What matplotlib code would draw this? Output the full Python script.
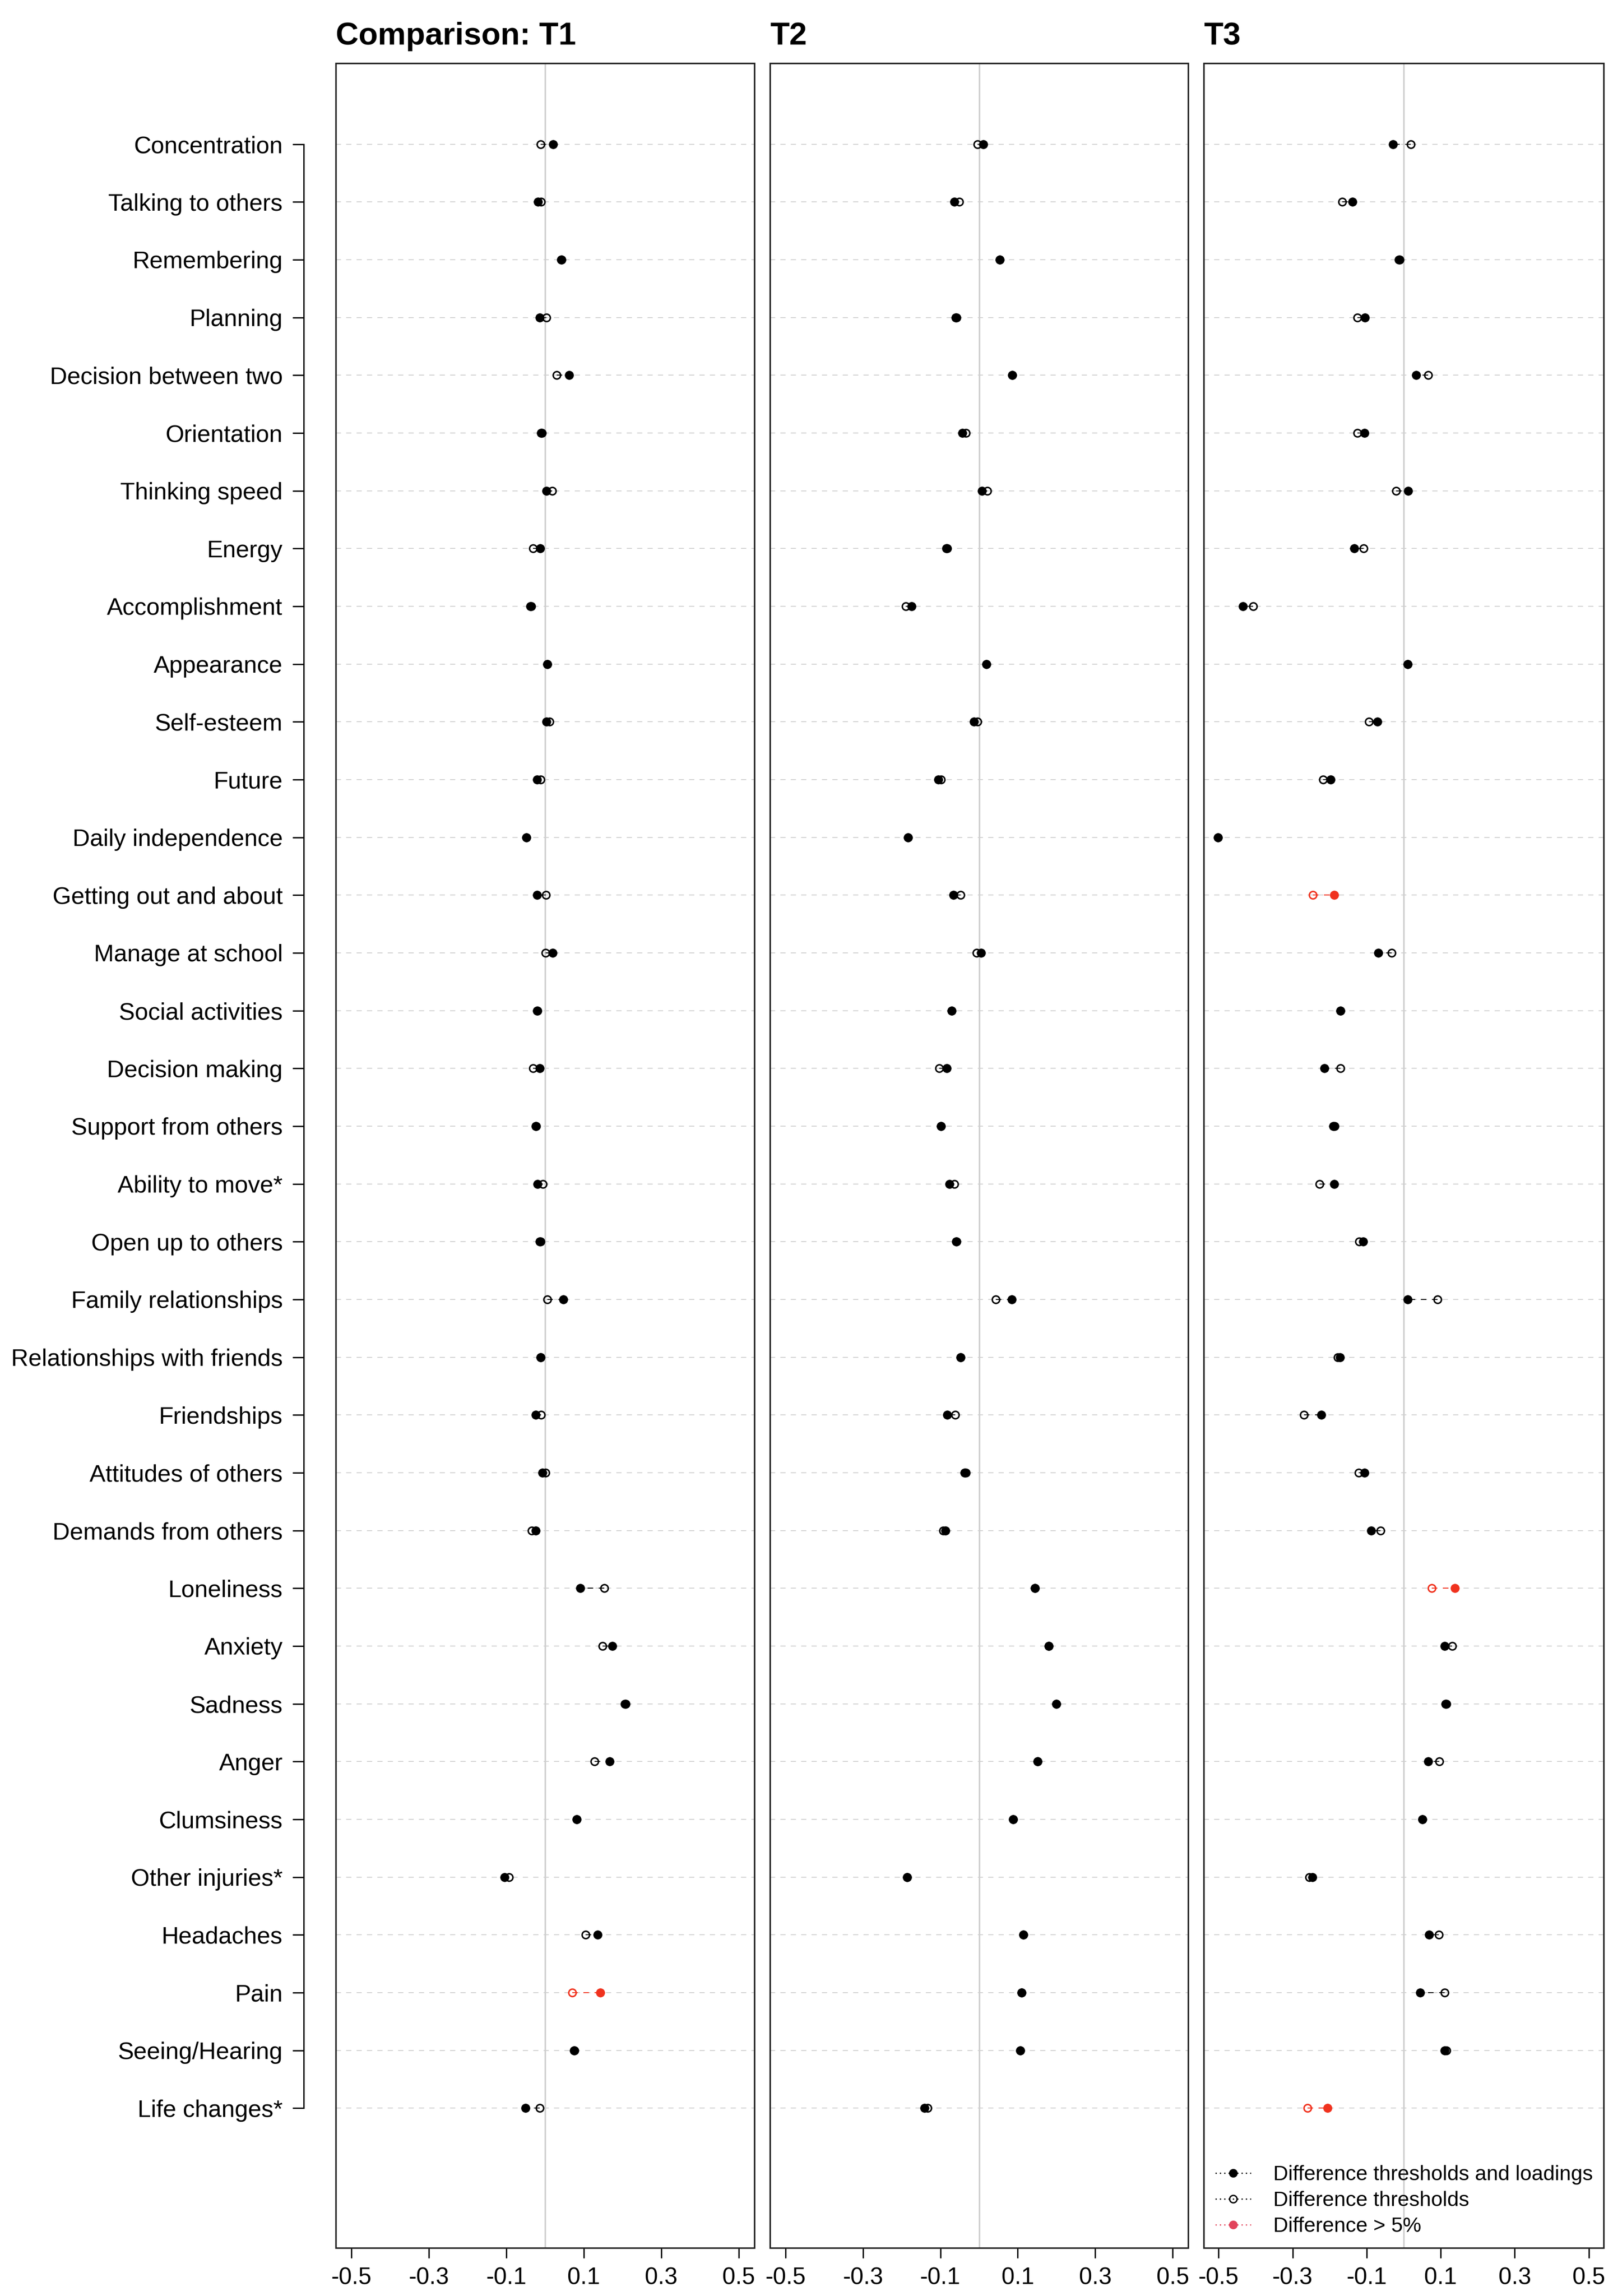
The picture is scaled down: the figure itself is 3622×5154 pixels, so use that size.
import matplotlib
matplotlib.use("Agg")
import matplotlib.pyplot as plt
from matplotlib.lines import Line2D
from matplotlib.patches import Rectangle

plt.rcParams['font.family'] = ['Liberation Sans', 'DejaVu Sans']
plt.rcParams['axes.unicode_minus'] = False

# ---------------- data ----------------
items = ["Concentration", "Talking to others", "Remembering", "Planning",
         "Decision between two", "Orientation", "Thinking speed", "Energy",
         "Accomplishment", "Appearance", "Self-esteem", "Future",
         "Daily independence", "Getting out and about", "Manage at school",
         "Social activities", "Decision making", "Support from others",
         "Ability to move*", "Open up to others", "Family relationships",
         "Relationships with friends", "Friendships", "Attitudes of others",
         "Demands from others", "Loneliness", "Anxiety", "Sadness", "Anger",
         "Clumsiness", "Other injuries*", "Headaches", "Pain",
         "Seeing/Hearing", "Life changes*"]

panel_titles = ["Comparison: T1", "T2", "T3"]

# difference thresholds and loadings (filled points)
t1_loadings = [0.021, -0.018, 0.043, -0.014, 0.062, -0.010, 0.003, -0.013, -0.038, 0.006,
               0.003, -0.021, -0.048, -0.021, 0.019, -0.021, -0.014, -0.024, -0.020, -0.014,
               0.047, -0.011, -0.024, -0.007, -0.024, 0.091, 0.174, 0.208, 0.167, 0.082,
               -0.104, 0.136, 0.143, 0.075, -0.051]
t2_loadings = [0.011, -0.064, 0.053, -0.060, 0.086, -0.043, 0.007, -0.085, -0.174, 0.019,
               -0.013, -0.105, -0.184, -0.066, 0.005, -0.071, -0.083, -0.098, -0.077, -0.059,
               0.084, -0.048, -0.082, -0.037, -0.087, 0.144, 0.180, 0.199, 0.151, 0.088,
               -0.186, 0.115, 0.110, 0.106, -0.141]
t3_loadings = [-0.029, -0.138, -0.011, -0.105, 0.034, -0.106, 0.012, -0.134, -0.434, 0.011,
               -0.071, -0.197, -0.502, -0.188, -0.069, -0.171, -0.214, -0.190, -0.188, -0.110,
               0.011, -0.172, -0.222, -0.106, -0.088, 0.138, 0.111, 0.113, 0.066, 0.050,
               -0.246, 0.068, 0.045, 0.111, -0.206]

# difference thresholds (open points)
t1_thresholds = [-0.012, -0.010, 0.041, 0.003, 0.030, -0.008, 0.018, -0.031, -0.036, 0.006,
                 0.012, -0.011, -0.048, 0.002, 0.001, -0.020, -0.031, -0.023, -0.006, -0.012,
                 0.006, -0.011, -0.010, 0.001, -0.034, 0.153, 0.148, 0.206, 0.127, 0.082,
                 -0.093, 0.105, 0.070, 0.076, -0.014]
t2_thresholds = [-0.004, -0.051, 0.053, -0.058, 0.086, -0.034, 0.021, -0.082, -0.189, 0.019,
                 -0.004, -0.098, -0.184, -0.048, -0.006, -0.071, -0.103, -0.098, -0.064, -0.058,
                 0.043, -0.048, -0.062, -0.034, -0.093, 0.144, 0.180, 0.199, 0.151, 0.088,
                 -0.186, 0.115, 0.110, 0.106, -0.133]
t3_thresholds = [0.019, -0.166, -0.013, -0.125, 0.066, -0.125, -0.020, -0.108, -0.406, 0.011,
                 -0.094, -0.218, -0.502, -0.245, -0.033, -0.171, -0.171, -0.186, -0.227, -0.120,
                 0.092, -0.178, -0.270, -0.122, -0.063, 0.076, 0.131, 0.116, 0.096, 0.050,
                 -0.255, 0.095, 0.111, 0.116, -0.260]

# items with difference > 5%
t1_flagged = ["Pain"]
t2_flagged = []
t3_flagged = ["Getting out and about", "Loneliness", "Life changes*"]

x_ticks = [-0.5, -0.3, -0.1, 0.1, 0.3, 0.5]
x_ticklabels = ["-0.5", "-0.3", "-0.1", "0.1", "0.3", "0.5"]

legend_labels = ["Difference thresholds and loadings", "Difference thresholds",
                 "Difference > 5%"]

# ---------------- layout ----------------
W, H = 3622, 5154
fig = plt.figure(figsize=(W / 100, H / 100), dpi=100)
fig.patch.set_facecolor("white")

panels_px = [(754, 1694), (1729, 2668), (2703, 3601)]
top_px, bot_px = 142, 5046

RED = "#F0321E"
LEG_RED = "#E2445C"
n = len(items)
ypos = [n - i for i in range(n)]

loadings = [t1_loadings, t2_loadings, t3_loadings]
thresholds = [t1_thresholds, t2_thresholds, t3_thresholds]
flagged = [t1_flagged, t2_flagged, t3_flagged]

axes = []
for p, (l, r) in enumerate(panels_px):
    ax = fig.add_axes([l / W, 1 - bot_px / H, (r - l) / W, (bot_px - top_px) / H])
    axes.append(ax)
    ax.set_xlim(-0.54, 0.54)
    ax.set_ylim(-1.42, 36.40)
    for s in ax.spines.values():
        s.set_visible(False)
    ax.add_patch(Rectangle((0, 0), 1, 1, transform=ax.transAxes, fill=False,
                           lw=2.5, ec="#222222", clip_on=False, zorder=20))
    # gridlines
    ax.hlines(ypos, -0.54, 0.54, colors="#cfcfcf", lw=1.4,
              linestyles=[(0, (6, 6))], zorder=1)
    ax.axvline(0, color="#cfcfcf", lw=2.5, zorder=2)

    for i, name in enumerate(items):
        col = RED if name in flagged[p] else "black"
        y = ypos[i]
        xf = loadings[p][i]
        xo = thresholds[p][i]
        ax.plot([xo, xf], [y, y], color=col, lw=1.5, linestyle=(0, (6, 6)), zorder=3)
        ax.plot([xf], [y], marker="o", ms=14, mfc=col, mec=col, mew=0.5,
                linestyle="none", zorder=4)
        ax.plot([xo], [y], marker="o", ms=12, mfc="none", mec=col, mew=2.4,
                linestyle="none", zorder=5)

    ax.set_xticks(x_ticks)
    ax.set_xticklabels(x_ticklabels)
    ax.tick_params(axis="x", direction="out", length=16.5, width=2.2, pad=14,
                   labelsize=38, colors="black")
    ax.set_title(panel_titles[p], loc="left", pad=30, fontsize=51, fontweight="bold")

    if p == 0:
        ax.spines["left"].set_visible(True)
        ax.spines["left"].set_position(("outward", 52))
        ax.spines["left"].set_bounds(1, n)
        ax.spines["left"].set_linewidth(2.2)
        ax.set_yticks(ypos)
        ax.set_yticklabels(items)
        ax.tick_params(axis="y", direction="out", length=18, width=2.2, pad=15.8,
                       labelsize=38.7)
    else:
        ax.set_yticks([])

# legend in third panel
handles = [
    Line2D([], [], color="black", lw=2, linestyle=(0, (1, 2.5)), marker="o",
           ms=13, mfc="black", mec="black"),
    Line2D([], [], color="black", lw=2, linestyle=(0, (1, 2.5)), marker="o",
           ms=12, mfc="none", mec="black", mew=2.2),
    Line2D([], [], color=LEG_RED, lw=2, linestyle=(0, (1, 2.5)), marker="o",
           ms=13, mfc=LEG_RED, mec=LEG_RED),
]
axes[2].legend(handles, legend_labels, loc="upper left",
               bbox_to_anchor=(2729 / W, 1 - 4860 / H), bbox_transform=fig.transFigure,
               frameon=False, fontsize=33.6, handlelength=1.71, handletextpad=1.07,
               labelspacing=0.3, borderpad=0, borderaxespad=0)

fig.savefig("out.png", dpi=100, facecolor="white")
